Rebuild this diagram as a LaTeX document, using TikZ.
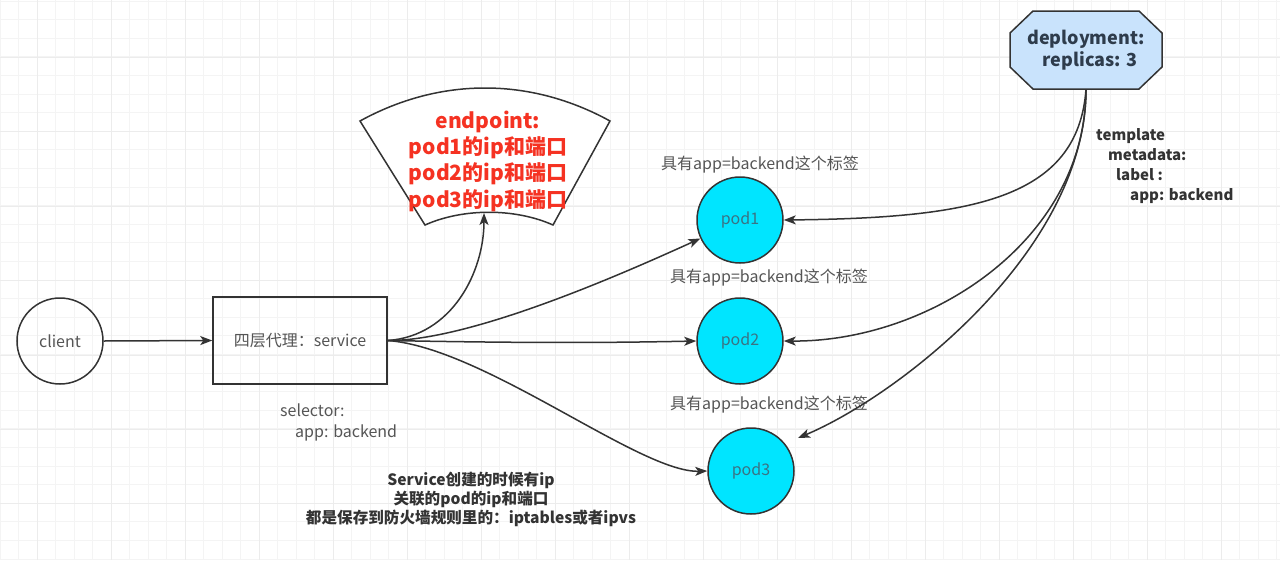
\documentclass[tikz,border=0pt]{standalone}
\usepackage{fontspec}
\setmainfont{Noto Sans CJK SC}
\usetikzlibrary{arrows.meta}
\definecolor{linec}{HTML}{333333}
\definecolor{txtgray}{HTML}{555555}
\definecolor{podfill}{HTML}{00E5FF}
\definecolor{podtxt}{HTML}{3A7384}
\definecolor{depfill}{HTML}{C9E3FC}
\definecolor{deptxt}{HTML}{2E3C4C}
\definecolor{epred}{HTML}{F53222}
\definecolor{gridminor}{HTML}{F4F4F4}
\definecolor{gridmajor}{HTML}{ECECEC}
\tikzset{
  conn/.style={draw=linec, line width=1.5pt, -{Stealth[length=12pt,width=9pt,inset=3pt]}},
  roundnode/.style={circle, draw=linec, line width=1.5pt, minimum size=86pt, inner sep=0pt,
    font=\fontsize{16}{19}\selectfont},
  podnode/.style={roundnode, fill=podfill, text=podtxt},
  lbl/.style={text=txtgray, font=\fontsize{16}{19}\selectfont, inner sep=0pt},
  boldlbl/.style={text=linec, font=\bfseries\fontsize{15}{20}\selectfont, inner sep=0pt},
}
\begin{document}
\begin{tikzpicture}[x=1pt,y=-1pt]
\useasboundingbox (0,0) rectangle (1280,560);
\fill[white] (0,0) rectangle (1280,560);
% grid
\foreach \k in {0,...,69} {
  \draw[gridminor, line width=1pt] (\k*18.5,0) -- (\k*18.5,560);
}
\foreach \k in {0,...,30} {
  \draw[gridminor, line width=1pt] (0,\k*18.6+1) -- (1280,\k*18.6+1);
}
\foreach \k in {0,...,17} {
  \draw[gridmajor, line width=1pt] (\k*74+37,0) -- (\k*74+37,560);
}
\foreach \k in {0,...,7} {
  \draw[gridmajor, line width=1pt] (0,\k*74.4+57.5) -- (1280,\k*74.4+57.5);
}

% nodes
\node[roundnode, text=txtgray] (client) at (60,341) {client};
\node[draw=linec, line width=1.5pt, minimum width=174pt, minimum height=87pt, inner sep=0pt,
      text=txtgray, font=\fontsize{16}{19}\selectfont] (service) at (300,340.5) {四层代理：service};
\node[podnode] (pod1) at (740,220) {pod1};
\node[podnode] (pod2) at (740,341) {pod2};
\node[podnode] (pod3) at (751,471) {pod3};

% endpoint fan
\draw[linec, line width=1.5pt, fill=white]
  (360,121) .. controls (440,77) and (530,77) .. (610,121)
  -- (553,225) .. controls (515,208) and (463,208) .. (425,225) -- cycle;
\coordinate (epb) at (484,213);
\node[text=epred, font=\bfseries\fontsize{21}{26.3}\selectfont, align=center, inner sep=0pt]
  (ep) at (488,161) {endpoint:\\pod1的ip和端口\\pod2的ip和端口\\pod3的ip和端口};

% deployment (octagon)
\draw[linec, line width=1.5pt, fill=depfill]
  (1033,11) -- (1139,11) -- (1162,33) -- (1162,67) -- (1139,89) -- (1033,89)
  -- (1010,67) -- (1010,33) -- cycle;
\node[minimum width=152pt, minimum height=78pt, inner sep=0pt, text=deptxt, align=center,
      font=\bfseries\fontsize{18}{22}\selectfont]
  (dep) at (1086,50) {deployment:\\\ \ replicas: 3};

% labels
\node[lbl] (l1) at (760,165) {具有app=backend这个标签};
\node[lbl] (l2) at (769,278) {具有app=backend这个标签};
\node[lbl] (l3) at (769,405) {具有app=backend这个标签};
\node[lbl, anchor=north west, align=left, font=\fontsize{16}{21}\selectfont] (sel) at (280,404)
  {selector:\\\hspace*{15pt}app: backend};
\node[boldlbl, anchor=north west, align=left] (tpl) at (1096,128)
  {template\\\hspace*{12pt}metadata:\\\hspace*{20pt}label :\\\hspace*{34pt}app: backend};
\node[boldlbl, align=center, font=\bfseries\fontsize{15.6}{19}\selectfont] (note) at (471,499)
  {Service创建的时候有ip\\关联的pod的ip和端口\\都是保存到防火墙规则里的：iptables或者ipvs};

% connectors
\coordinate (p3in) at (798,438);
\draw[conn] (client.east) -- (service.west);
\draw[conn] (service.east) .. controls (452,336) and (484,272) .. (epb);
\draw[conn] (service.east) .. controls (470,341) and (620,275) .. (pod1.205);
\draw[conn] (service.east) .. controls (520,343) and (600,343) .. (pod2.west);
\draw[conn] (service.east) .. controls (485,348) and (640,473) .. (pod3.west);
\draw[conn] (dep.south) .. controls (1078,200) and (970,218) .. (pod1.east);
\draw[conn] (dep.south) .. controls (1086,240) and (930,342) .. (pod2.east);
\draw[conn] (dep.south) .. controls (1086,250) and (900,395) .. (p3in);
\end{tikzpicture}
\end{document}
